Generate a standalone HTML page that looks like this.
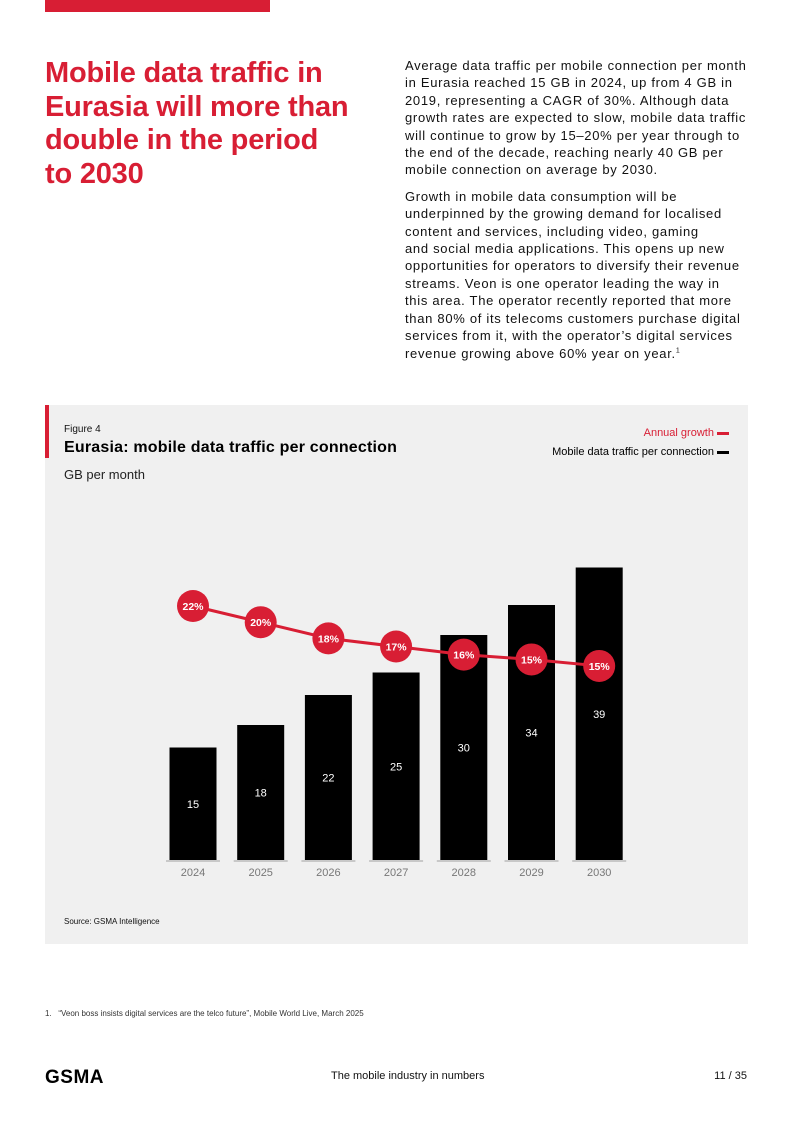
<!DOCTYPE html>
<html><head><meta charset="utf-8"><style>
body{margin:0;width:793px;height:1121px;background:#fff;font-family:"Liberation Sans",sans-serif;position:relative;overflow:hidden}
.a{position:absolute}
</style></head><body>
<div class="a" style="left:45px;top:0;width:225px;height:12px;background:#d81e34"></div>
<div class="a" style="left:45px;top:57px;white-space:nowrap;font-size:29px;line-height:33.5px;font-weight:bold;color:#d81e34;letter-spacing:-0.2px">Mobile data traffic in<br>Eurasia will more than<br>double in the period<br>to 2030</div>
<div class="a" style="left:405px;top:57px;white-space:nowrap;font-size:13px;line-height:17.4px;letter-spacing:0.7px;color:#111">
<p style="margin:0 0 9px">Average data traffic per mobile connection per month<br>in Eurasia reached 15 GB in 2024, up from 4 GB in<br>2019, representing a CAGR of 30%. Although data<br>growth rates are expected to slow, mobile data traffic<br>will continue to grow by 15–20% per year through to<br>the end of the decade, reaching nearly 40 GB per<br>mobile connection on average by 2030.</p>
<p style="margin:0">Growth in mobile data consumption will be<br>underpinned by the growing demand for localised<br>content and services, including video, gaming<br>and social media applications. This opens up new<br>opportunities for operators to diversify their revenue<br>streams. Veon is one operator leading the way in<br>this area. The operator recently reported that more<br>than 80% of its telecoms customers purchase digital<br>services from it, with the operator’s digital services<br>revenue growing above 60% year on year.<sup style="font-size:7px;line-height:0">1</sup></p></div>
<div class="a" style="left:45px;top:405px;width:703px;height:539px;background:#f0f0f0"></div>
<div class="a" style="left:45px;top:405px;width:4px;height:53px;background:#d81e34"></div>
<div class="a" style="left:64px;top:424px;font-size:10px;color:#111">Figure 4</div>
<div class="a" style="left:64px;top:439px;font-size:16px;font-weight:bold;color:#000;letter-spacing:0.2px">Eurasia: mobile data traffic per connection</div>
<div class="a" style="left:64px;top:467px;font-size:13px;color:#222">GB per month</div>
<div class="a" style="right:64px;top:427px;font-size:11px;color:#d81e34">Annual growth <span style="display:inline-block;width:12px;height:3px;background:#d81e34;vertical-align:middle"></span></div>
<div class="a" style="right:64px;top:446px;font-size:11px;color:#000">Mobile data traffic per connection <span style="display:inline-block;width:12px;height:3px;background:#000;vertical-align:middle"></span></div>
<svg class="a" id="chart" style="left:0;top:0" width="793" height="1121"></svg>
<div class="a" style="left:64px;top:917px;font-size:8px;color:#111">Source: GSMA Intelligence</div>
<div class="a" style="left:45px;top:1009px;font-size:8px;color:#333">1.&nbsp;&nbsp; “Veon boss insists digital services are the telco future”, Mobile World Live, March 2025</div>
<div class="a" style="left:45px;top:1067px;font-size:19px;font-weight:bold;letter-spacing:0.5px;color:#000">GSMA</div>
<div class="a" style="left:331px;top:1070px;font-size:11px;color:#111">The mobile industry in numbers</div>
<div class="a" style="right:46px;top:1070px;font-size:11px;color:#111">11 / 35</div>
<script>
const years=["2024","2025","2026","2027","2028","2029","2030"];
const traffic=[15,18,22,25,30,34,39];
const trafficLabels=["15","18","22","25","30","34","39"];
const growth=[22,20,18,17,16,15.4,14.6];
const growthLabels=["22%","20%","18%","17%","16%","15%","15%"];
const NS="http://www.w3.org/2000/svg",svg=document.getElementById('chart');
const x=i=>193+i*67.7, base=860, yB=v=>base-v*7.5, yG=v=>606+(22-v)*8.1;
function mk(t,a){const e=document.createElementNS(NS,t);for(const k in a)e.setAttribute(k,a[k]);svg.appendChild(e);return e;}
years.forEach((yr,i)=>{
 const ax=mk('line',{x1:x(i)-27,x2:x(i)+27,y1:base+1,y2:base+1,stroke:'#bbb','stroke-width':1.5});
 
 const b=mk('rect',{x:x(i)-23.5,y:yB(traffic[i]),width:47,height:traffic[i]*7.5,fill:'#000'});
 
 const t=mk('text',{x:x(i),y:(yB(traffic[i])+base)/2+4,'text-anchor':'middle','font-size':11,fill:'#fff','font-family':'Liberation Sans'});t.textContent=trafficLabels[i];
 
 const l=mk('text',{x:x(i),y:876,'text-anchor':'middle','font-size':11,fill:'#777','font-family':'Liberation Sans'});l.textContent=yr;
 
});
const p=mk('polyline',{points:growth.map((g,i)=>x(i)+','+yG(g)).join(' '),fill:'none',stroke:'#d81e34','stroke-width':3});

growth.forEach((g,i)=>{
 const c=mk('circle',{cx:x(i),cy:yG(g),r:16,fill:'#d81e34'});
 
 const t=mk('text',{x:x(i),y:yG(g)+4,'text-anchor':'middle','font-size':10.5,fill:'#fff','font-weight':'bold','font-family':'Liberation Sans'});t.textContent=growthLabels[i];
 
});
</script>
</body></html>
